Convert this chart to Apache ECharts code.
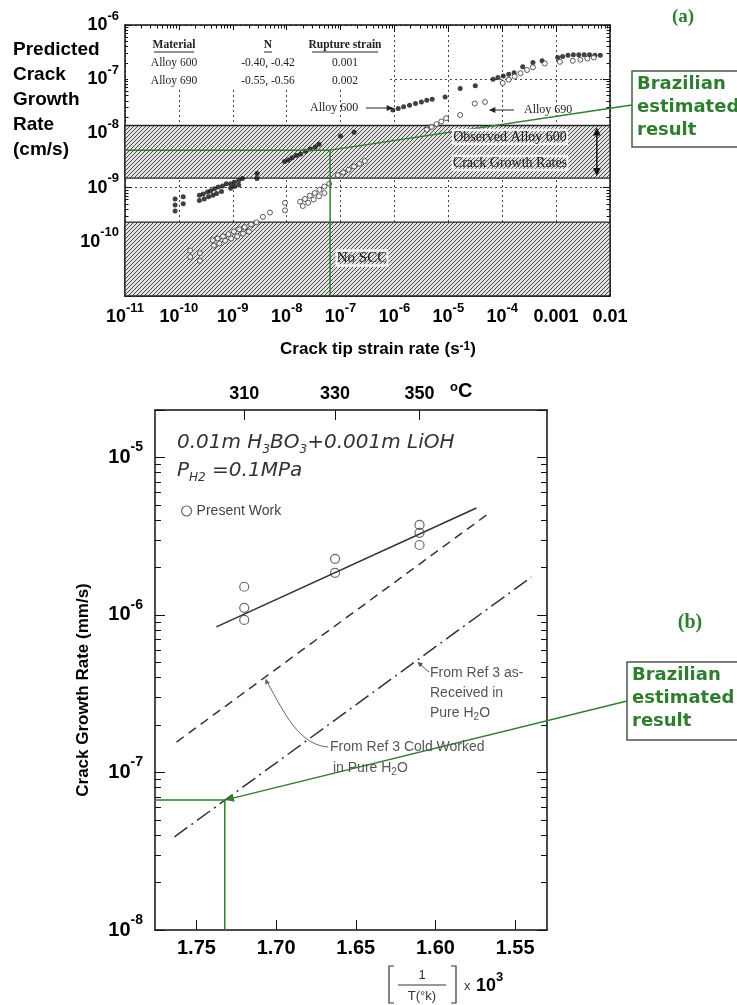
<!DOCTYPE html>
<html>
<head>
<meta charset="utf-8">
<script src="https://cdn.jsdelivr.net/npm/echarts@6/dist/echarts.min.js"></script>
<style>
  html, body { margin: 0; padding: 0; background: #fff; }
  #main { width: 737px; height: 1005px; }
</style>
</head>
<body>
<div id="main"></div>
<script>
// ---- panel (a): crack tip strain rate (1/s) vs predicted crack growth rate (cm/s)
// points are stored as [log10 strain rate, log10 growth rate]
const alloy600Log = [
  [-10.07, -9.21], [-10.07, -9.32], [-10.07, -9.43], [-9.92, -9.17], [-9.92, -9.30],
  [-9.62, -9.14], [-9.55, -9.12], [-9.47, -9.08], [-9.41, -9.06], [-9.34, -9.02], [-9.27, -8.99], [-9.19, -8.97], [-9.12, -8.93],
  [-9.62, -9.24], [-9.53, -9.21], [-9.45, -9.17], [-9.37, -9.14], [-9.30, -9.11], [-9.21, -9.07],
  [-9.04, -8.93], [-8.97, -8.90], [-8.89, -8.87], [-8.82, -8.83], [-9.04, -9.01], [-8.97, -8.98], [-8.89, -8.95],
  [-8.55, -8.74], [-8.55, -8.83],
  [-8.04, -8.52], [-7.97, -8.49], [-7.90, -8.45], [-7.82, -8.41], [-7.74, -8.38], [-7.65, -8.33], [-7.56, -8.29], [-7.47, -8.25], [-7.40, -8.20],
  [-7.00, -8.05], [-6.75, -7.98],
  [-6.03, -7.57], [-5.93, -7.54], [-5.83, -7.51], [-5.72, -7.48], [-5.61, -7.45], [-5.50, -7.42], [-5.40, -7.39], [-5.30, -7.37],
  [-5.06, -7.33], [-4.78, -7.17], [-4.50, -7.12],
  [-4.17, -7.00], [-4.08, -6.97], [-3.98, -6.94], [-3.88, -6.91], [-3.78, -6.88],
  [-3.62, -6.77], [-3.43, -6.69], [-3.26, -6.66],
  [-2.97, -6.60], [-2.88, -6.58], [-2.78, -6.56], [-2.68, -6.55], [-2.58, -6.55], [-2.48, -6.55], [-2.38, -6.55], [-2.28, -6.56], [-2.18, -6.56]
];
const alloy690Log = [
  [-9.79, -10.16], [-9.79, -10.28], [-9.61, -10.21], [-9.61, -10.35],
  [-9.37, -9.97], [-9.28, -9.94], [-9.18, -9.90], [-9.08, -9.86], [-8.98, -9.81], [-8.88, -9.77], [-8.78, -9.73], [-8.66, -9.68], [-8.56, -9.64],
  [-9.35, -10.07], [-9.25, -10.03], [-9.14, -9.98], [-9.03, -9.94], [-8.92, -9.90], [-8.81, -9.85], [-8.70, -9.81],
  [-8.44, -9.54], [-8.31, -9.46],
  [-8.03, -9.28], [-8.03, -9.42],
  [-7.75, -9.26], [-7.66, -9.21], [-7.57, -9.15], [-7.48, -9.10], [-7.39, -9.04], [-7.30, -8.98], [-7.21, -8.93],
  [-7.70, -9.34], [-7.60, -9.28], [-7.50, -9.22], [-7.40, -9.16], [-7.30, -9.10],
  [-7.05, -8.77], [-6.95, -8.72], [-6.85, -8.67], [-6.75, -8.61], [-6.65, -8.56], [-6.55, -8.51],
  [-5.40, -7.93], [-5.31, -7.88], [-5.22, -7.83], [-5.13, -7.78], [-5.04, -7.72],
  [-4.78, -7.66], [-4.51, -7.45], [-4.32, -7.42],
  [-3.99, -7.07], [-3.88, -7.01], [-3.77, -6.95], [-3.66, -6.89], [-3.54, -6.83], [-3.43, -6.78],
  [-3.21, -6.71], [-2.93, -6.68], [-2.69, -6.66], [-2.55, -6.64], [-2.42, -6.62], [-2.30, -6.60]
];
const strainRange = [1e-11, 1e-2];
const rateRangeA = [1e-11, 1e-6];
const observedBand = [1.5e-9, 1.4e-8];   // observed Alloy 600 crack growth rates
const noSccBand = [1e-11, 2.3e-10];
const estimateA = [6.4e-8, 4.9e-9];      // Brazilian estimated result
const tableRows = [
  ['Material', 'N', 'Rupture strain'],
  ['Alloy 600', '-0.40, -0.42', '0.001'],
  ['Alloy 690', '-0.55, -0.56', '0.002']
];

// ---- panel (b): 1/T x 10^3 vs crack growth rate (mm/s)
const invTempRange = [1.53, 1.776];
const invTempTicks = [1.75, 1.70, 1.65, 1.60, 1.55];
const tempTicks = [310, 330, 350];
const tempTickPos = [1.72, 1.663, 1.61];
const rateRangeB = [1e-8, 2e-5];
const presentWork = [
  [1.72, 1.51e-6], [1.72, 1.11e-6], [1.72, 0.93e-6],
  [1.663, 2.27e-6], [1.663, 1.85e-6],
  [1.61, 3.73e-6], [1.61, 3.32e-6], [1.61, 2.78e-6]
];
const fitPresent = [[1.7375, 8.4e-7], [1.5743, 4.78e-6]];
const coldWorked = [[1.7625, 1.56e-7], [1.5662, 4.44e-6]];
const asReceived = [[1.7638, 3.9e-8], [1.5398, 1.74e-6]];
const estimateB = [1.7322, 6.68e-8];

const SANS = 'Liberation Sans, Arial, sans-serif';
const SERIF = 'Liberation Serif, Times New Roman, serif';
const GREEN = '#2f7d2f';
const INK = '#111';

const chart = echarts.init(document.getElementById('main'));

function makeHatch() {
  const c = document.createElement('canvas');
  c.width = 4; c.height = 4;
  const g = c.getContext('2d');
  g.fillStyle = '#e2e2e2';
  g.fillRect(0, 0, 4, 4);
  g.strokeStyle = '#4a4a4a';
  g.lineWidth = 1;
  g.beginPath();
  for (let k = -4; k <= 8; k += 4) { g.moveTo(k, 4); g.lineTo(k + 4, 0); }
  g.stroke();
  return c;
}

// "10" with a raised exponent
function richPow(size) {
  return {
    b: { fontSize: size, fontWeight: 'bold', fontFamily: SANS, color: '#000', fill: '#000', lineHeight: Math.round(size * 1.7), verticalAlign: 'middle' },
    s: { fontSize: Math.round(size * 0.7), fontWeight: 'bold', fontFamily: SANS, color: '#000', fill: '#000', verticalAlign: 'top' }
  };
}
function isPow10(v) {
  const e = Math.log10(v);
  return Math.abs(e - Math.round(e)) < 1e-6;
}
function powLabel(v) {
  return isPow10(v) ? '{b|10}{s|' + Math.round(Math.log10(v)) + '}' : '';
}

function boxAxis(extra) {
  return Object.assign({
    axisLine: { show: true, onZero: false, lineStyle: { color: INK, width: 1.5 } },
    axisTick: { show: true, inside: true, length: 7, lineStyle: { color: INK } },
    minorTick: { show: true, splitNumber: 9, length: 3.5, lineStyle: { color: INK } },
    splitLine: { show: false },
    axisLabel: { show: false }
  }, extra);
}
const dotted = { show: true, lineStyle: { type: [2, 3], color: '#444', width: 1 } };
const toPts = arr => arr.map(p => [Math.pow(10, p[0]), Math.pow(10, p[1])]);

const option = {
  animation: false,
  backgroundColor: '#fff',
  grid: [
    { left: 125, top: 25, width: 485, height: 271 },
    { left: 155, top: 410, width: 392, height: 520 }
  ],
  legend: {
    data: [{ name: 'Present Work', icon: 'circle', itemStyle: { color: 'rgba(0,0,0,0)', borderColor: '#444', borderWidth: 1.2 } }],
    left: 176, top: 499, itemWidth: 10, itemHeight: 10,
    textStyle: { fontSize: 14, fontFamily: SANS, color: '#444' }
  },
  xAxis: [
    boxAxis({
      type: 'log', logBase: 10, gridIndex: 0, min: strainRange[0], max: strainRange[1], splitNumber: 9,
      splitLine: dotted,
      axisLabel: {
        show: true, margin: 6, rich: richPow(18),
        formatter: v => Math.round(Math.log10(v)) >= -3 ? '{b|' + Number(v.toPrecision(1)) + '}' : powLabel(v)
      }
    }),
    boxAxis({ type: 'log', logBase: 10, gridIndex: 0, position: 'top', min: strainRange[0], max: strainRange[1], splitNumber: 9 }),
    boxAxis({
      type: 'value', gridIndex: 1, inverse: true, min: invTempRange[0], max: invTempRange[1],
      minorTick: { show: false },
      axisTick: { show: true, inside: true, length: 10, customValues: invTempTicks, lineStyle: { color: INK } },
      axisLabel: {
        show: true, margin: 8, customValues: invTempTicks, formatter: v => v.toFixed(2),
        fontSize: 20, fontWeight: 'bold', fontFamily: SANS, color: '#000'
      }
    }),
    boxAxis({
      type: 'value', gridIndex: 1, position: 'top', inverse: true, min: invTempRange[0], max: invTempRange[1],
      minorTick: { show: false },
      axisTick: { show: true, inside: true, length: 10, customValues: tempTickPos, lineStyle: { color: INK } },
      axisLabel: {
        show: true, margin: 7, customValues: tempTickPos,
        formatter: v => { const i = tempTickPos.findIndex(p => Math.abs(p - v) < 1e-6); return i >= 0 ? String(tempTicks[i]) : ''; },
        fontSize: 18, fontWeight: 'bold', fontFamily: SANS, color: '#000'
      }
    })
  ],
  yAxis: [
    boxAxis({
      type: 'log', logBase: 10, gridIndex: 0, min: rateRangeA[0], max: rateRangeA[1], splitNumber: 5,
      splitLine: dotted,
      axisLabel: { show: true, margin: 6, rich: richPow(18), formatter: v => v < 1.5e-11 ? '' : powLabel(v) }
    }),
    boxAxis({ type: 'log', logBase: 10, gridIndex: 0, position: 'right', min: rateRangeA[0], max: rateRangeA[1], splitNumber: 5 }),
    boxAxis({
      type: 'log', logBase: 10, gridIndex: 1, min: rateRangeB[0], max: rateRangeB[1], splitNumber: 3,
      axisTick: { show: true, inside: true, length: 10, lineStyle: { color: INK } },
      minorTick: { show: true, splitNumber: 9, length: 6, lineStyle: { color: INK } },
      axisLabel: { show: true, margin: 12, rich: richPow(20), formatter: powLabel }
    }),
    boxAxis({
      type: 'log', logBase: 10, gridIndex: 1, position: 'right', min: rateRangeB[0], max: rateRangeB[1], splitNumber: 3,
      axisTick: { show: true, inside: true, length: 10, lineStyle: { color: INK } },
      minorTick: { show: true, splitNumber: 9, length: 6, lineStyle: { color: INK } }
    })
  ],
  series: [
    {
      name: 'Alloy 600', type: 'scatter', xAxisIndex: 0, yAxisIndex: 0, z: 5,
      data: toPts(alloy600Log), symbolSize: 5, itemStyle: { color: '#111' },
      markArea: {
        silent: true,
        itemStyle: { color: { image: makeHatch(), repeat: 'repeat' }, borderColor: '#222', borderWidth: 1.3 },
        data: [
          [{ yAxis: observedBand[0] }, { yAxis: observedBand[1] }],
          [{ yAxis: noSccBand[0] }, { yAxis: noSccBand[1] }]
        ]
      }
    },
    {
      name: 'Alloy 690', type: 'scatter', xAxisIndex: 0, yAxisIndex: 0, z: 5,
      data: toPts(alloy690Log), symbolSize: 5,
      itemStyle: { color: '#fff', borderColor: '#333', borderWidth: 1 }
    },
    {
      name: 'estimate a', type: 'line', xAxisIndex: 0, yAxisIndex: 0, z: 6, symbol: 'none', silent: true,
      data: [[strainRange[0], estimateA[1]], estimateA, [estimateA[0], rateRangeA[0]]],
      lineStyle: { color: GREEN, width: 1.5 }
    },
    {
      name: 'Present Work', type: 'scatter', xAxisIndex: 2, yAxisIndex: 2, z: 5,
      data: presentWork, symbolSize: 9,
      itemStyle: { color: 'rgba(0,0,0,0)', borderColor: '#444', borderWidth: 1.2 }
    },
    {
      name: 'fit', type: 'line', xAxisIndex: 2, yAxisIndex: 2, symbol: 'none', silent: true,
      data: fitPresent, lineStyle: { color: '#333', width: 1.6 }
    },
    {
      name: 'cold worked', type: 'line', xAxisIndex: 2, yAxisIndex: 2, symbol: 'none', silent: true,
      data: coldWorked, lineStyle: { color: '#333', width: 1.5, type: [9, 6] }
    },
    {
      name: 'as received', type: 'line', xAxisIndex: 2, yAxisIndex: 2, symbol: 'none', silent: true,
      data: asReceived, lineStyle: { color: '#333', width: 1.5, type: [16, 5, 2, 5] }
    },
    {
      name: 'estimate b', type: 'line', xAxisIndex: 2, yAxisIndex: 2, z: 6, symbol: 'none', silent: true,
      data: [[invTempRange[1], estimateB[1]], estimateB, [estimateB[0], rateRangeB[0]]],
      lineStyle: { color: GREEN, width: 1.5 }
    }
  ]
};
chart.setOption(option);

// ---- annotations
const pA = p => chart.convertToPixel({ xAxisIndex: 0, yAxisIndex: 0 }, p);
const pB = p => chart.convertToPixel({ xAxisIndex: 2, yAxisIndex: 2 }, p);
function onSeg(seg, x) {
  const t = (x - seg[0][0]) / (seg[1][0] - seg[0][0]);
  return [x, Math.pow(10, Math.log10(seg[0][1]) + t * (Math.log10(seg[1][1]) - Math.log10(seg[0][1])))];
}
function text(x, y, str, st) {
  return { type: 'text', x: x, y: y, z: 20, silent: true,
    style: Object.assign({ text: str, fill: '#000', align: 'left', verticalAlign: 'middle', fontFamily: SANS, fontSize: 14 }, st) };
}
function line(x1, y1, x2, y2, color, w) {
  return { type: 'line', z: 19, silent: true, shape: { x1: x1, y1: y1, x2: x2, y2: y2 }, style: { stroke: color, lineWidth: w || 1 } };
}
function head(x, y, ang, size, color) {
  const a1 = ang + Math.PI * 0.86, a2 = ang - Math.PI * 0.86;
  return { type: 'polygon', z: 19, silent: true,
    shape: { points: [[x, y], [x + size * Math.cos(a1), y + size * Math.sin(a1)], [x + size * Math.cos(a2), y + size * Math.sin(a2)]] },
    style: { fill: color } };
}
function greenBox(x, y, w, h, lines) {
  const out = [{ type: 'rect', z: 18, silent: true, shape: { x: x, y: y, width: w, height: h },
    style: { fill: '#fff', stroke: '#4a5a4a', lineWidth: 1.5 } }];
  lines.forEach((s, i) => out.push(text(x + 5, y + 13 + i * 23, s, { fontFamily: 'DejaVu Sans, sans-serif', fontWeight: 'bold', fontSize: 18, fill: GREEN })));
  return out;
}

const g = [];
// (a) axis title and panel tag
['Predicted', 'Crack', 'Growth', 'Rate', '(cm/s)'].forEach((s, i) =>
  g.push(text(13, 50 + i * 25, s, { fontWeight: 'bold', fontSize: 19 })));
g.push(text(683, 17, '(a)', { align: 'center', fontFamily: SERIF, fontWeight: 'bold', fontSize: 19, fill: GREEN }));
g.push(text(378, 349, 'Crack tip strain rate (s{s|-1})', {
  align: 'center', fontWeight: 'bold', fontSize: 17,
  rich: { s: { fontSize: 12, fontWeight: 'bold', fontFamily: SANS, fill: '#000', verticalAlign: 'top' } }
}));
// table
g.push({ type: 'rect', z: 3, silent: true, shape: { x: 128, y: 30, width: 262, height: 58 }, style: { fill: '#fff' } });
const colX = [174, 268, 345], rowY = [45, 63, 81];
tableRows.forEach((row, r) => row.forEach((s, c) => {
  g.push(text(colX[c], rowY[r], s, { align: 'center', fontFamily: SERIF, fontSize: 11.5, fontWeight: r === 0 ? 'bold' : 'normal', fill: '#222' }));
}));
[[154, 194], [264, 272], [312, 378]].forEach(u => g.push(line(u[0], 52, u[1], 52, '#222', 1)));
// alloy labels
g.push(text(310, 108, 'Alloy 600', { fontFamily: SERIF, fontSize: 12, fill: '#222' }));
g.push(line(366, 108, 392, 108, '#222', 1), head(393, 108, 0, 7, '#222'));
g.push(text(524, 110, 'Alloy 690', { fontFamily: SERIF, fontSize: 12, fill: '#222' }));
g.push(line(514, 110, 490, 110, '#222', 1), head(489, 110, Math.PI, 7, '#222'));
// band labels
const bandTxt = { align: 'center', fontFamily: SERIF, fontSize: 14, fill: '#222', textBorderColor: '#f4f4f4', textBorderWidth: 2.5 };
g.push(text(510, 137, 'Observed Alloy 600', bandTxt));
g.push(text(510, 163, 'Crack Growth Rates', bandTxt));
g.push(text(362, 258, 'No SCC', Object.assign({}, bandTxt, { fontSize: 15 })));
const arTop = pA([5.7e-3, observedBand[1]]), arBot = pA([5.7e-3, observedBand[0]]);
g.push(line(arTop[0], arTop[1] + 4, arBot[0], arBot[1] - 4, '#111', 1.5),
  head(arTop[0], arTop[1] + 2, -Math.PI / 2, 9, '#111'), head(arBot[0], arBot[1] - 2, Math.PI / 2, 9, '#111'));
// (a) estimate leader and box
const eA = pA(estimateA);
g.push(line(eA[0], eA[1], 632, 105, GREEN, 1.3));
g.push(...greenBox(632, 71, 108, 76, ['Brazilian', 'estimated', 'result']));

// (b) titles
g.push({ type: 'text', x: 83, y: 690, rotation: Math.PI / 2, z: 20, silent: true,
  style: { text: 'Crack Growth Rate (mm/s)', fontFamily: SANS, fontWeight: 'bold', fontSize: 17, fill: '#000', align: 'center', verticalAlign: 'middle' } });
g.push(text(450, 391, '{s|o}C', { fontWeight: 'bold', fontSize: 20,
  rich: { s: { fontSize: 13, fontWeight: 'bold', fontFamily: SANS, fill: '#000', verticalAlign: 'top' } } }));
g.push(text(690, 623, '(b)', { align: 'center', fontFamily: SERIF, fontWeight: 'bold', fontSize: 20, fill: GREEN }));
// x title: [1 / T(°k)] x 10^3
g.push(text(422, 975, '1', { align: 'center', fontSize: 13, fill: '#333' }));
g.push(line(398, 985, 446, 985, '#333', 1));
g.push(text(422, 996, 'T(°k)', { align: 'center', fontSize: 13, fill: '#333' }));
g.push({ type: 'polyline', z: 19, silent: true, shape: { points: [[394, 966], [389, 966], [389, 1003], [394, 1003]] }, style: { stroke: '#333', lineWidth: 1.2, fill: null } });
g.push({ type: 'polyline', z: 19, silent: true, shape: { points: [[451, 966], [456, 966], [456, 1003], [451, 1003]] }, style: { stroke: '#333', lineWidth: 1.2, fill: null } });
g.push(text(464, 986, 'x', { fontSize: 13, fill: '#333' }));
g.push(text(476, 986, '{b|10}{s|3}', { rich: richPow(18) }));
// chemistry note
const CHEM = 'DejaVu Sans, sans-serif';
const chemRich = {
  n: { fontSize: 20, fontStyle: 'italic', fontFamily: CHEM, fill: '#333', lineHeight: 26, verticalAlign: 'middle' },
  d: { fontSize: 12, fontStyle: 'italic', fontFamily: CHEM, fill: '#333', verticalAlign: 'bottom' }
};
g.push(text(177, 443, '{n|0.01m H}{d|3}{n|BO}{d|3}{n|+0.001m LiOH}', { rich: chemRich }));
g.push(text(177, 471, '{n|P}{d|H2}{n| =0.1MPa}', { rich: chemRich }));
// curve labels
const grey = { fontSize: 14, fill: '#555' };
const subRich = {
  n: { fontSize: 14, fontFamily: SANS, fill: '#555', lineHeight: 18, verticalAlign: 'middle' },
  s: { fontSize: 10, fontFamily: SANS, fill: '#555', verticalAlign: 'bottom' }
};
g.push(text(430, 673, 'From Ref 3 as-', grey), text(430, 693, 'Received in', grey));
g.push(text(430, 713, '{n|Pure H}{s|2}{n|O}', { rich: subRich }));
const tipAs = pB(onSeg(asReceived, 1.612));
g.push(line(429, 672, tipAs[0] + 2, tipAs[1] + 2, '#555', 1), head(tipAs[0] + 1, tipAs[1] + 1, Math.atan2(tipAs[1] - 672, tipAs[0] - 429), 6, '#555'));
g.push(text(330, 747, 'From Ref 3 Cold Worked', grey));
g.push(text(333, 768, '{n|in Pure H}{s|2}{n|O}', { rich: subRich }));
const tipCw = pB(onSeg(coldWorked, 1.7073));
g.push({ type: 'bezierCurve', z: 19, silent: true,
  shape: { x1: 328, y1: 747, cpx1: 300, cpy1: 745, cpx2: 285, cpy2: 715, x2: tipCw[0] + 2, y2: tipCw[1] + 3 },
  style: { stroke: '#666', lineWidth: 1, fill: null } });
g.push(head(tipCw[0] + 1, tipCw[1] + 1, -Math.PI * 0.62, 6, '#666'));
// (b) estimate leader and box
const eB = pB(estimateB);
g.push(line(eB[0], eB[1], 627, 701, GREEN, 1.3), head(eB[0] + 1, eB[1], Math.atan2(eB[1] - 701, eB[0] - 627), 9, GREEN));
g.push(...greenBox(627, 662, 112, 78, ['Brazilian', 'estimated', 'result']));

chart.setOption({ graphic: { elements: g } });
</script>
</body>
</html>
